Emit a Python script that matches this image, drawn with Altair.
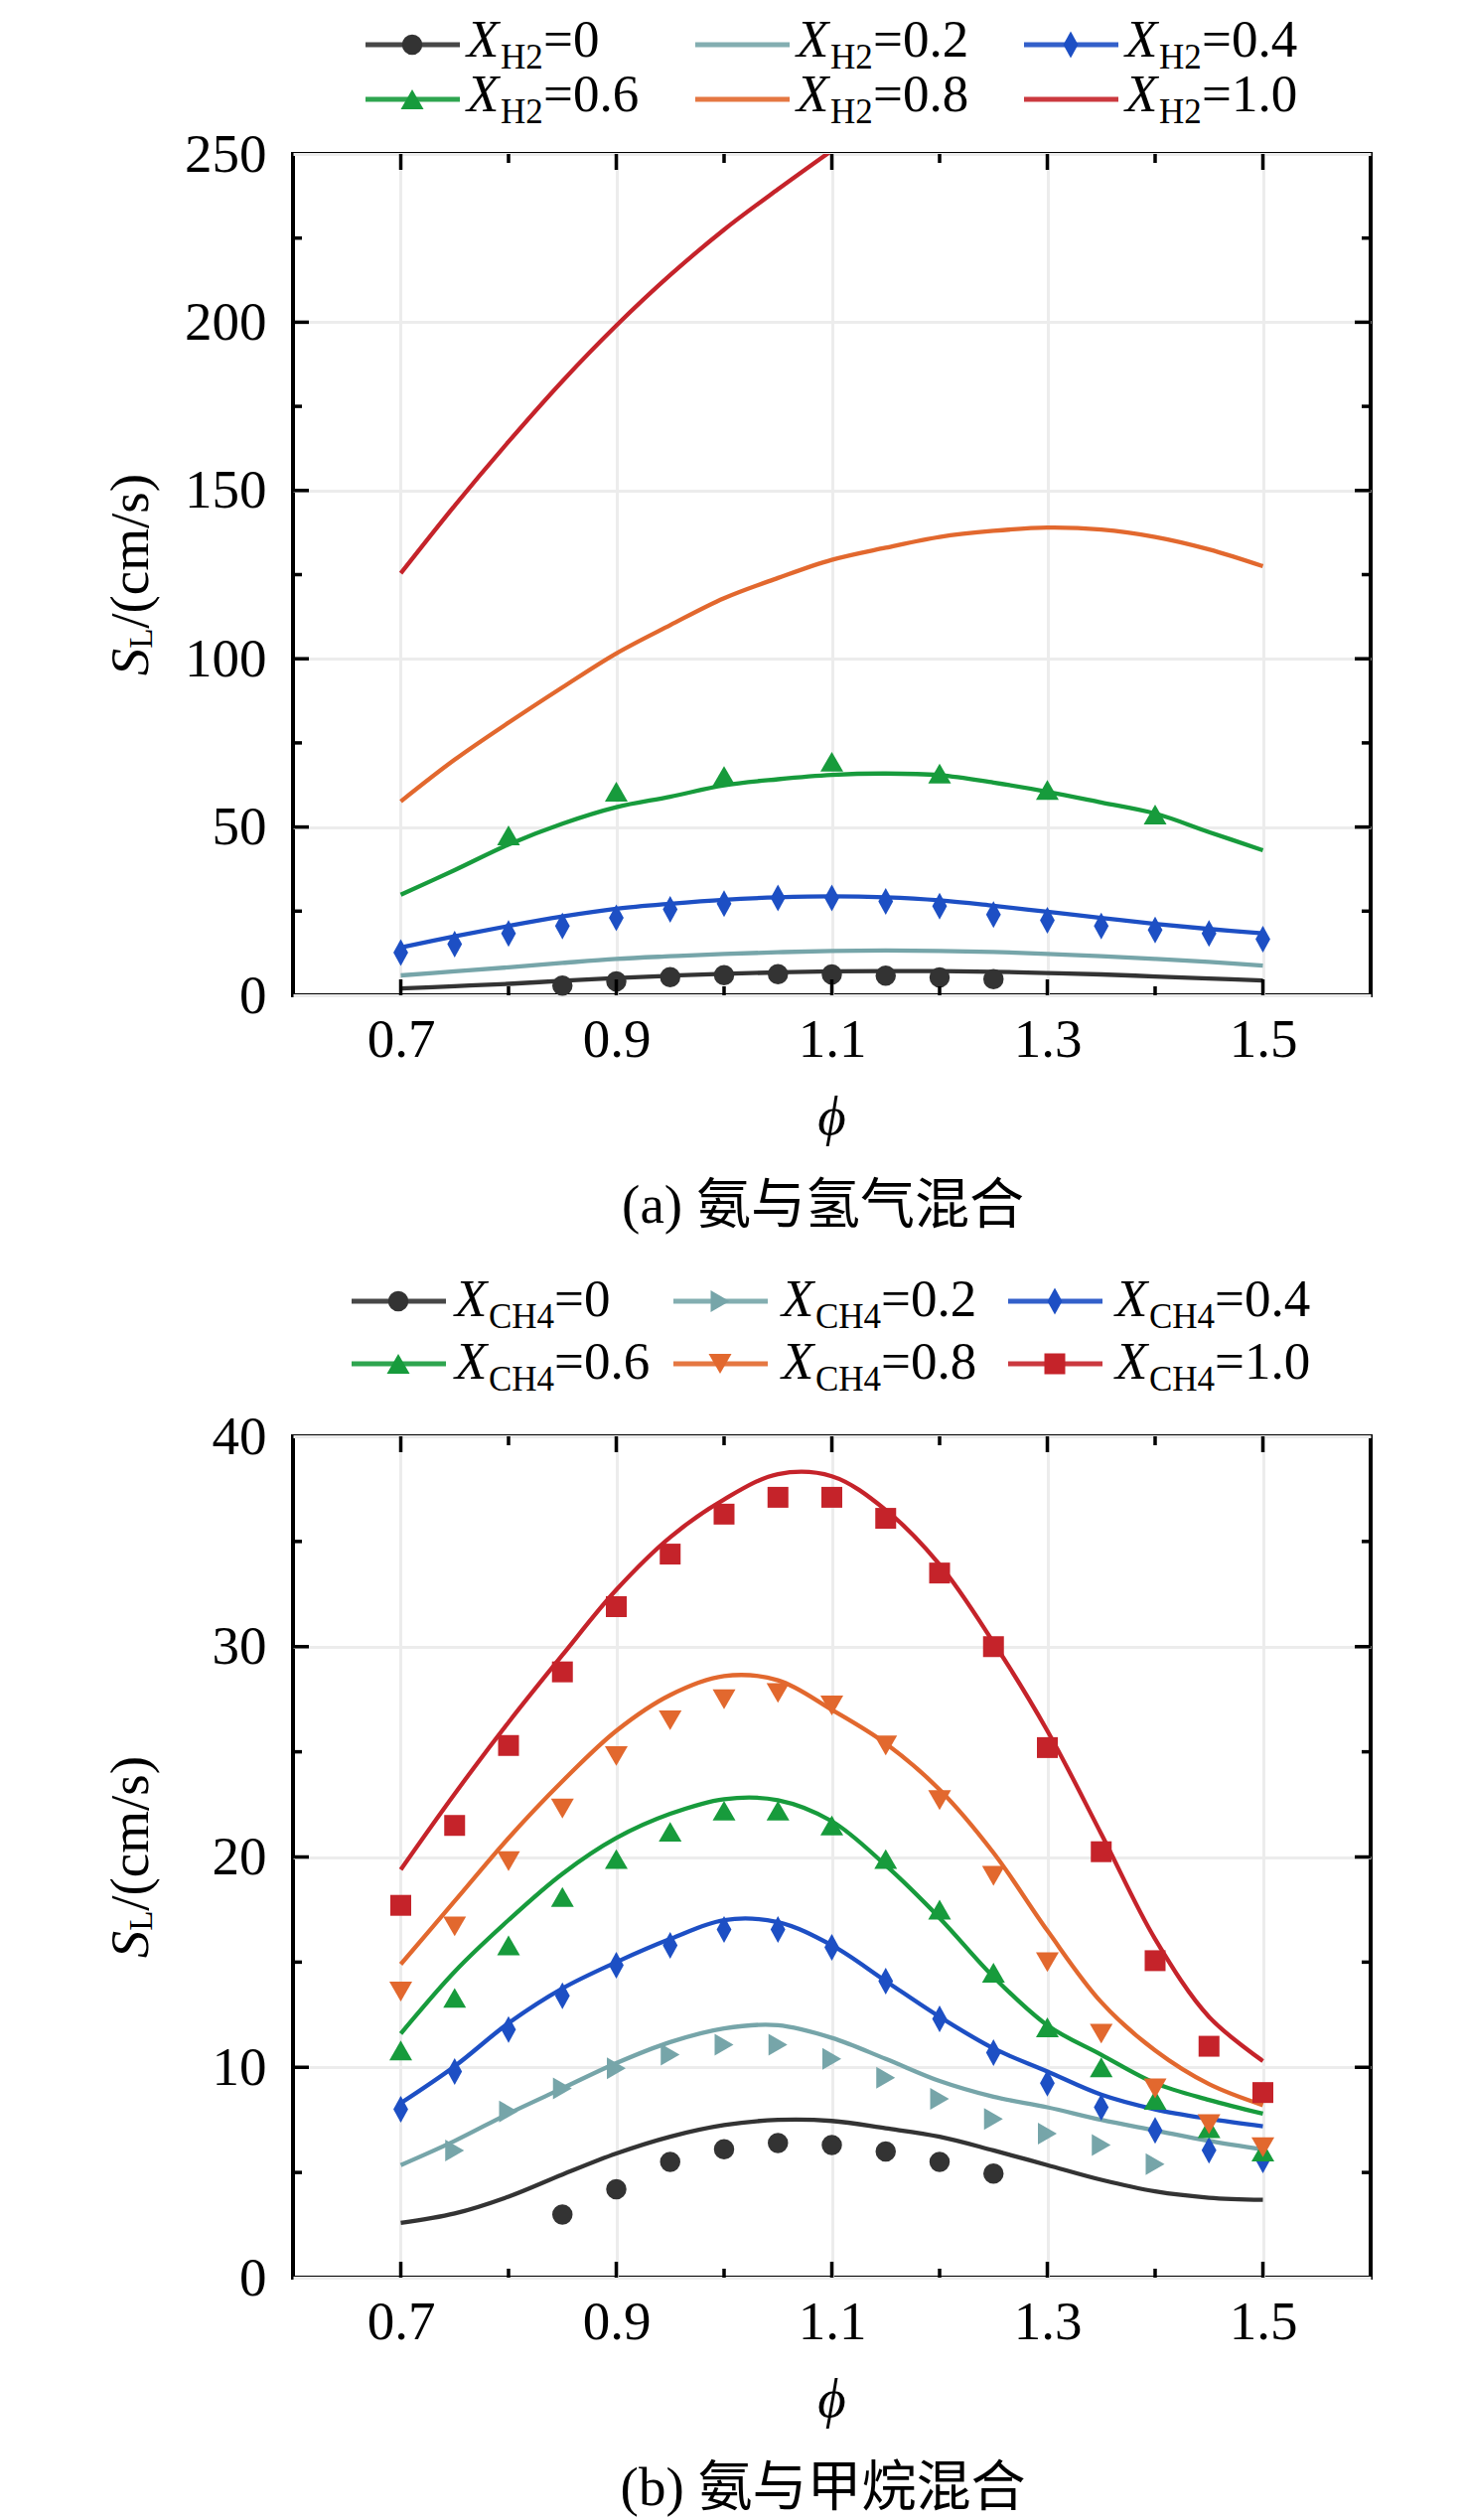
import altair as alt
import pandas as pd

SERIF = "Liberation Serif"
CAP_FONT = "Liberation Serif, Noto Sans CJK SC"
FS = 55
FSL = 53
SUB = 35
W, H = 1085, 847

BLACK = "#333333"
TEAL = "#76a5a9"
BLUE = "#1d4fc4"
GREEN = "#179b3c"
ORANGE = "#e2682e"
RED = "#c5232a"
THIN_DIAMOND = "M0,-1L0.55,0L0,1L-0.55,0Z"

# ---------------- data ----------------
phi = [0.70, 0.75, 0.80, 0.85, 0.90, 0.95, 1.00, 1.05, 1.10, 1.15, 1.20, 1.25, 1.30, 1.35, 1.40, 1.45, 1.50]

# (a) ammonia / hydrogen : model curves
a_curve_0 = [2.0, 2.7, 3.4, 4.3, 5.1, 5.8, 6.4, 6.8, 7.1, 7.2, 7.2, 7.0, 6.6, 6.2, 5.6, 5.0, 4.4]
a_curve_02 = [5.9, 7.1, 8.3, 9.6, 10.8, 11.6, 12.3, 12.8, 13.2, 13.3, 13.2, 12.9, 12.3, 11.6, 10.8, 9.9, 8.8]
a_curve_04 = [14.2, 17.5, 20.6, 23.4, 25.7, 27.2, 28.4, 29.1, 29.4, 29.1, 28.2, 26.6, 24.8, 23.0, 21.2, 19.7, 18.4]
a_curve_06 = [29.9, 37.2, 44.8, 51.0, 55.9, 59.0, 62.4, 64.2, 65.5, 65.9, 65.4, 63.2, 60.5, 57.3, 54.0, 48.5, 43.1]
a_curve_08 = [57.6, 70.0, 81.0, 91.5, 101.6, 110.0, 118.0, 124.0, 129.4, 133.0, 136.2, 138.0, 139.0, 138.4, 136.2, 132.5, 127.5]
a_curve_10_phi = [0.70, 0.75, 0.80, 0.85, 0.90, 0.95, 1.00, 1.05, 1.10]
a_curve_10 = [125.4, 145.5, 164.5, 182.5, 199.0, 214.0, 227.5, 239.5, 251.0]

# (a) measured points
a_pts_0_phi = [0.85, 0.90, 0.95, 1.00, 1.05, 1.10, 1.15, 1.20, 1.25]
a_pts_0 = [2.9, 4.1, 5.4, 6.0, 6.3, 6.2, 5.8, 5.3, 4.8]
a_pts_04 = [12.7, 15.2, 18.4, 20.6, 23.0, 25.5, 27.2, 28.9, 28.9, 27.9, 26.5, 24.0, 22.3, 20.6, 19.4, 18.4, 16.7]
a_pts_06_phi = [0.80, 0.90, 1.00, 1.10, 1.20, 1.30, 1.40]
a_pts_06 = [47.5, 60.5, 65.2, 69.4, 65.9, 61.0, 53.7]

# (b) ammonia / methane : model curves
b_curve_0 = [2.6, 3.05, 3.85, 4.9, 5.9, 6.7, 7.25, 7.5, 7.45, 7.1, 6.7, 6.05, 5.35, 4.65, 4.1, 3.8, 3.7]
b_curve_02 = [5.35, 6.5, 7.8, 9.0, 10.2, 11.2, 11.85, 12.0, 11.4, 10.4, 9.35, 8.6, 8.1, 7.5, 7.0, 6.5, 6.1]
b_curve_04 = [8.3, 10.05, 12.1, 13.75, 15.0, 16.1, 17.0, 16.9, 15.8, 14.1, 12.4, 10.9, 9.8, 8.7, 8.0, 7.55, 7.2]
b_curve_06 = [11.6, 14.55, 17.0, 19.2, 20.9, 22.05, 22.75, 22.7, 21.7, 19.6, 17.1, 14.3, 12.0, 10.6, 9.25, 8.45, 7.8]
b_curve_08 = [14.9, 17.9, 20.9, 23.6, 26.0, 27.7, 28.6, 28.4, 27.0, 25.4, 23.2, 20.2, 16.5, 13.1, 10.8, 9.2, 8.2]
b_curve_10 = [19.4, 23.0, 26.4, 29.6, 32.7, 35.2, 37.0, 38.2, 38.1, 36.5, 33.9, 30.2, 26.0, 21.1, 16.1, 12.4, 10.3]

# (b) measured points
b_pts_0_phi = [0.85, 0.90, 0.95, 1.00, 1.05, 1.10, 1.15, 1.20, 1.25]
b_pts_0 = [3.0, 4.2, 5.5, 6.1, 6.4, 6.3, 6.0, 5.5, 4.95]
b_pts_02_phi = [0.75, 0.80, 0.85, 0.90, 0.95, 1.00, 1.05, 1.10, 1.15, 1.20, 1.25, 1.30, 1.35, 1.40]
b_pts_02 = [6.05, 7.9, 9.0, 9.95, 10.6, 11.07, 11.07, 10.4, 9.5, 8.5, 7.55, 6.85, 6.3, 5.4]
b_pts_04 = [8.0, 9.8, 11.8, 13.4, 14.85, 15.8, 16.55, 16.55, 15.7, 14.1, 12.3, 10.7, 9.25, 8.1, 7.0, 6.06, 5.6]
b_pts_06 = [10.8, 13.3, 15.8, 18.1, 19.9, 21.2, 22.2, 22.2, 21.5, 19.9, 17.5, 14.5, 11.9, 10.0, 8.45, 7.1, 6.0]
b_pts_08 = [13.6, 16.7, 19.8, 22.3, 24.8, 26.5, 27.5, 27.8, 27.2, 25.3, 22.7, 19.1, 15.0, 11.6, 9.0, 7.3, 6.2]
b_pts_10 = [17.7, 21.5, 25.3, 28.8, 31.9, 34.4, 36.3, 37.1, 37.1, 36.1, 33.5, 30.0, 25.2, 20.25, 15.07, 11.0, 8.8]

series_labels = ["0", "0.2", "0.4", "0.6", "0.8", "1.0"]

x_major = [0.7, 0.9, 1.1, 1.3, 1.5]
x_minor = [0.8, 1.0, 1.2, 1.4]
a_y_major = [0, 50, 100, 150, 200, 250]
a_y_minor = [25, 75, 125, 175, 225]
b_y_major = [0, 10, 20, 30, 40]
b_y_minor = [5, 15, 25, 35]

ONE = alt.Data(values=[{"k": 0}])


def panel(curves, points, ydom, ymaj, ymin, legend_items, sub, leg, ytitle_x, caption):
    xs = alt.Scale(domain=[0.6, 1.6], nice=False, zero=False)
    ys = alt.Scale(domain=ydom, nice=False, zero=True)
    xaxis = alt.Axis(values=x_major, format=".1f", labelFont=SERIF, labelFontSize=FS,
                     labelColor="black", ticks=False, domain=False, grid=True,
                     gridColor="#ececec", gridWidth=3, labelPadding=18, title=None)
    yaxis = alt.Axis(values=ymaj, format="d", labelFont=SERIF, labelFontSize=FS,
                     labelColor="black", ticks=False, domain=False, grid=True,
                     gridColor="#ececec", gridWidth=3, labelPadding=27, title=None)
    X = alt.X("phi:Q", scale=xs, axis=xaxis)
    Y = alt.Y("S:Q", scale=ys, axis=yaxis)
    layers = []
    for ph, vals, color in curves:
        df = pd.DataFrame({"phi": ph, "S": vals})
        layers.append(alt.Chart(df).mark_line(color=color, strokeWidth=4.3,
                                              interpolate="catmull-rom", clip=True).encode(x=X, y=Y))
    for ph, vals, color, shape, size in points:
        df = pd.DataFrame({"phi": ph, "S": vals})
        layers.append(alt.Chart(df).mark_point(color=color, shape=shape, size=size, filled=True,
                                               opacity=1).encode(x=X, y=Y))
    # inward ticks on all four sides
    for vals, ln in ((x_major, 16), (x_minor, 9)):
        df = pd.DataFrame({"phi": vals})
        layers.append(alt.Chart(df).mark_rule(color="black", strokeWidth=3.5).encode(
            x=X, y=alt.value(H), y2=alt.value(H - ln)))
        layers.append(alt.Chart(df).mark_rule(color="black", strokeWidth=3.5).encode(
            x=X, y=alt.value(0), y2=alt.value(ln)))
    for vals, ln in ((ymaj[1:-1], 16), (ymin, 9)):
        df = pd.DataFrame({"S": vals})
        layers.append(alt.Chart(df).mark_rule(color="black", strokeWidth=3.5).encode(
            y=Y, x=alt.value(0), x2=alt.value(ln)))
        layers.append(alt.Chart(df).mark_rule(color="black", strokeWidth=3.5).encode(
            y=Y, x=alt.value(W), x2=alt.value(W - ln)))
    # custom legend (with subscripts)
    col_x0, col_lx, row_line, row_base, sub_w = leg
    for i, (lab, color, shape, size) in enumerate(legend_items):
        c, r = i % 3, i // 3
        x0 = col_x0[c]
        lx = col_lx[c]
        layers.append(alt.Chart(ONE).mark_rule(color=color, strokeWidth=5, opacity=0.9).encode(
            x=alt.value(x0), x2=alt.value(x0 + 95), y=alt.value(row_line[r])))
        if shape is not None:
            layers.append(alt.Chart(ONE).mark_point(color=color, shape=shape, size=size,
                                                    filled=True, opacity=1).encode(
                x=alt.value(x0 + 47), y=alt.value(row_line[r])))
        layers.append(alt.Chart(ONE).mark_text(text="X", font=SERIF, fontStyle="italic", fontSize=FSL,
                                               align="left", baseline="alphabetic", color="black").encode(
            x=alt.value(lx), y=alt.value(row_base[r])))
        layers.append(alt.Chart(ONE).mark_text(text=sub, font=SERIF, fontSize=SUB,
                                               align="left", baseline="alphabetic", color="black").encode(
            x=alt.value(lx + 34), y=alt.value(row_base[r] + 12)))
        layers.append(alt.Chart(ONE).mark_text(text="=" + lab, font=SERIF, fontSize=FSL,
                                               align="left", baseline="alphabetic", color="black").encode(
            x=alt.value(lx + 34 + sub_w), y=alt.value(row_base[r])))
    # y title  S_L/(cm/s)
    y0 = H / 2 + 101.75
    layers.append(alt.Chart(ONE).mark_text(text="S", font=SERIF, fontStyle="italic", fontSize=FS,
                                           angle=270, align="left", baseline="alphabetic",
                                           color="black").encode(
        x=alt.value(ytitle_x), y=alt.value(y0)))
    layers.append(alt.Chart(ONE).mark_text(text="L", font=SERIF, fontSize=33, angle=270,
                                           align="left", baseline="alphabetic", color="black").encode(
        x=alt.value(ytitle_x + 4), y=alt.value(y0 - 27.5)))
    layers.append(alt.Chart(ONE).mark_text(text="/(cm/s)", font=SERIF, fontSize=FS, angle=270,
                                           align="left", baseline="alphabetic", color="black").encode(
        x=alt.value(ytitle_x), y=alt.value(y0 - 27.5 - 20)))
    # x title and caption
    layers.append(alt.Chart(ONE).mark_text(text="ϕ", font=SERIF, fontStyle="italic", fontSize=FS,
                                           align="center", baseline="alphabetic", color="black").encode(
        x=alt.value(W / 2), y=alt.value(H + 140)))
    layers.append(alt.Chart(ONE).mark_text(text=caption, font=CAP_FONT, fontSize=FS,
                                           align="center", baseline="alphabetic", color="black").encode(
        x=alt.value(W / 2 - 9), y=alt.value(H + 229)))
    return alt.layer(*layers).properties(width=W, height=H)


a_curves = [
    (phi, a_curve_0, BLACK), (phi, a_curve_02, TEAL), (phi, a_curve_04, BLUE),
    (phi, a_curve_06, GREEN), (phi, a_curve_08, ORANGE), (a_curve_10_phi, a_curve_10, RED),
]
a_points = [
    (a_pts_0_phi, a_pts_0, BLACK, "circle", 420),
    (phi, a_pts_04, BLUE, THIN_DIAMOND, 729),
    (a_pts_06_phi, a_pts_06, GREEN, "triangle-up", 529),
]
a_legend = [
    (series_labels[0], BLACK, "circle", 420),
    (series_labels[1], TEAL, None, 0),
    (series_labels[2], BLUE, THIN_DIAMOND, 729),
    (series_labels[3], GREEN, "triangle-up", 529),
    (series_labels[4], ORANGE, None, 0),
    (series_labels[5], RED, None, 0),
]
a_leg = ([73, 405, 736], [175, 507, 838], [-110, -55], [-98, -43], 43)

b_curves = [
    (phi, b_curve_0, BLACK), (phi, b_curve_02, TEAL), (phi, b_curve_04, BLUE),
    (phi, b_curve_06, GREEN), (phi, b_curve_08, ORANGE), (phi, b_curve_10, RED),
]
b_points = [
    (b_pts_0_phi, b_pts_0, BLACK, "circle", 420),
    (b_pts_02_phi, b_pts_02, TEAL, "triangle-right", 484),
    (phi, b_pts_04, BLUE, THIN_DIAMOND, 729),
    (phi, b_pts_06, GREEN, "triangle-up", 529),
    (phi, b_pts_08, ORANGE, "triangle-down", 529),
    (phi, b_pts_10, RED, "square", 441),
]
b_legend = [
    (series_labels[0], BLACK, "circle", 420),
    (series_labels[1], TEAL, "triangle-right", 484),
    (series_labels[2], BLUE, THIN_DIAMOND, 729),
    (series_labels[3], GREEN, "triangle-up", 529),
    (series_labels[4], ORANGE, "triangle-down", 529),
    (series_labels[5], RED, "square", 441),
]
b_leg = ([59, 383, 720], [163, 492, 828], [-136, -73], [-121, -58], 66)

pa = panel(a_curves, a_points, [0, 250], a_y_major, a_y_minor, a_legend, "H2", a_leg, -146,
           "(a) 氨与氢气混合")
pb = panel(b_curves, b_points, [0, 40], b_y_major, b_y_minor, b_legend, "CH4", b_leg, -146,
           "(b) 氨与甲烷混合")

chart = alt.vconcat(pa, pb, spacing=37).properties(
    padding={"left": 95, "top": 5, "right": 0, "bottom": 0}
).configure_view(stroke="black", strokeWidth=4)

chart.save("out.html", embed_options={"renderer": "svg", "actions": False})
